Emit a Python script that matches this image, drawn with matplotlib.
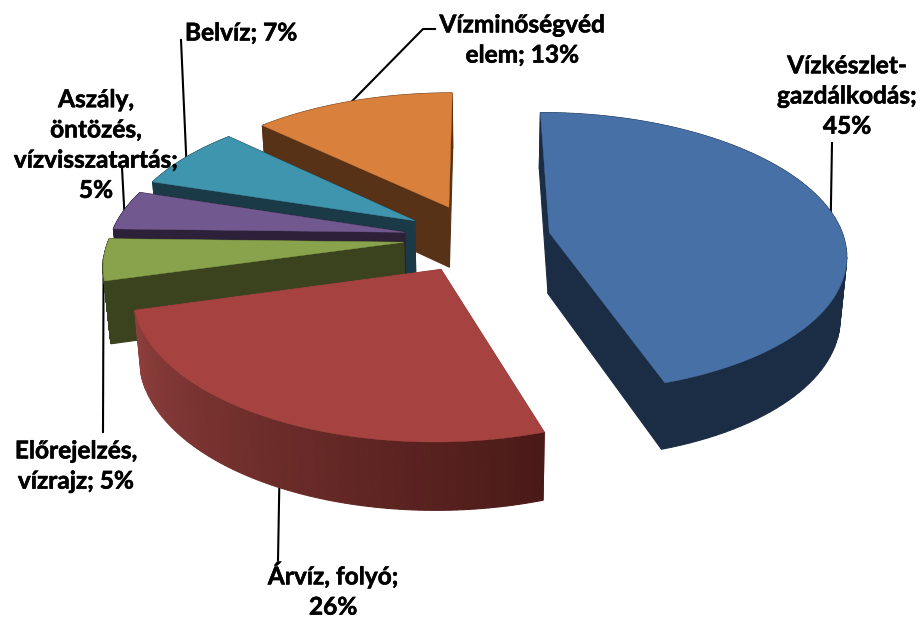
import numpy as np
import matplotlib
matplotlib.use('Agg')
import matplotlib.pyplot as plt
import matplotlib.patheffects as pe
from matplotlib.colors import to_rgb

names = ['Vízkészlet-\ngazdálkodás;\n45%', 'Árvíz, folyó;\n26%', 'Előrejelzés,\nvízrajz; 5%',
         'Aszály,\nöntözés,\nvízvisszatartás;\n5%', 'Belvíz; 7%', 'Vízminőségvéd\nelem; 13%']
# shares before rounding, the labels show 45, 26, 5, 5, 7, 13
shares = [45.0, 25.7, 4.7, 4.5, 7.2, 12.9]
top_colors = ['#4670a6', '#a64341', '#88a34c', '#71588f', '#4095ae', '#d9803c']
wall_colors = ['#1b2d45', '#8e3f3c', '#3a421e', '#2c2139', '#1b3a47', '#573216']
red_wall_end = '#4a1a18'
label_pos = [(847, 96), (333, 590), (76, 466), (96, 145), (241, 33), (522, 40)]
leader_paths = [[(832, 143)], [(278, 560)], [(103, 432)], [(122, 168)], [(181, 40)], [(423, 29), (435, 29)]]
leader_shift = [0, -1.9, 0, 0, 0, 0]

# camera of the tilted pie, in pixels
X0, Y0 = 477, 238
SCALE_X, SCALE_Y = 294.5, 138.4
PERSP = 0.141
EXPLODE = 0.25
DEPTH, DEPTH_PERSP = 61.2, 0.086
BOTTOM_SHRINK = 0.982


def project(x, y):
    w = 1 + PERSP * y
    return X0 + SCALE_X * x / w, Y0 - SCALE_Y * y / w


def project_bottom(x, y):
    sx, sy = project(x, y)
    return X0 + (sx - X0) * BOTTOM_SHRINK, sy + DEPTH / (1 + DEPTH_PERSP * y)


def rim(theta, mid):
    # theta clockwise from the top of the pie, degrees
    t, m = np.radians(theta), np.radians(mid)
    return EXPLODE * np.sin(m) + np.sin(t), EXPLODE * np.cos(m) + np.cos(t)


def wall(ax, p0, p1, color, z):
    outline = [project(*p0), project(*p1), project_bottom(*p1), project_bottom(*p0)]
    ax.fill([p[0] for p in outline], [p[1] for p in outline], color=color, lw=0.8, zorder=z)


fig = plt.figure(figsize=(9.24, 6.19), dpi=100)
ax = fig.add_axes([0, 0, 1, 1])
ax.set_xlim(0, 924)
ax.set_ylim(619, 0)
ax.axis('off')

edges = np.cumsum([0] + shares) / sum(shares) * 360
draw_order = [5, 4, 3, 2, 1, 0]

for n, i in enumerate(draw_order):
    start, end = edges[i], edges[i + 1]
    mid = (start + end) / 2
    z = 10 + n
    thetas = np.linspace(start, end, 90)
    apex = (EXPLODE * np.sin(np.radians(mid)), EXPLODE * np.cos(np.radians(mid)))
    rim_pts = [rim(t, mid) for t in thetas]

    # radial walls, then the outer wall, then the top
    wall(ax, apex, rim_pts[0], wall_colors[i], z)
    wall(ax, apex, rim_pts[-1], wall_colors[i], z)
    for k in range(len(rim_pts) - 1):
        color = wall_colors[i]
        if i == 1:
            # the red wall gets darker towards the right
            f = 1 - k / (len(rim_pts) - 2)
            color = tuple((1 - f) * a + f * b for a, b in zip(to_rgb(wall_colors[1]), to_rgb(red_wall_end)))
        wall(ax, rim_pts[k], rim_pts[k + 1], color, z)

    top = [project(*apex)] + [project(*p) for p in rim_pts]
    ax.fill([p[0] for p in top], [p[1] for p in top], color=top_colors[i], lw=0.3, zorder=z)

    # leader from the middle of the rim
    start_pt = project(*rim(mid + leader_shift[i], mid))
    path = [start_pt] + leader_paths[i]
    ax.plot([p[0] for p in path], [p[1] for p in path], color='black', lw=1.5, zorder=5)
    ax.text(label_pos[i][0], label_pos[i][1], names[i], ha='center', va='center', family='Lato',
            weight='bold', fontsize=17.6, linespacing=1.38, color='black', zorder=30,
            path_effects=[pe.withStroke(linewidth=0.4, foreground='black')])

fig.savefig('out.png', dpi=100)
